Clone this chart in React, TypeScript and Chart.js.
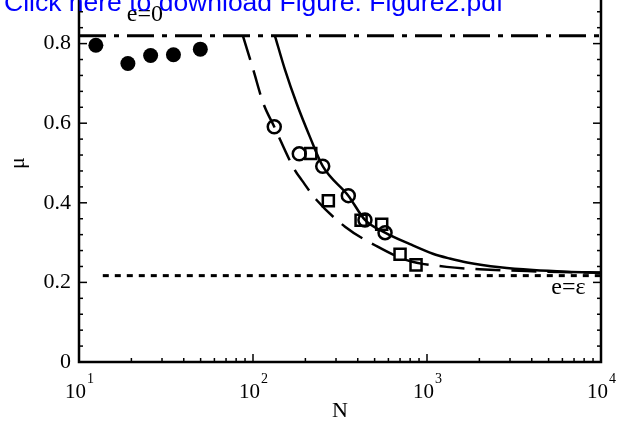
import React, { useEffect, useRef } from 'react';
import { Chart, registerables } from 'chart.js';
Chart.register(...registerables);

// ---- data ----
const filledN = [12.5, 19.1, 25.8, 34.9, 49.8];
const filledMu = [0.796, 0.75, 0.77, 0.772, 0.786];

const circleN = [132.5, 184.5, 251.6, 353, 440, 574];
const circleMu = [0.591, 0.523, 0.492, 0.418, 0.357, 0.325];

const squareN = [214.8, 271, 418, 549, 700, 865];
const squareMu = [0.524, 0.405, 0.356, 0.346, 0.271, 0.244];

const solidN = [133.8, 152.8, 178, 212.6, 251.6, 353, 440, 574, 798, 1081, 1350, 1698, 2627, 4064, 6377, 10000];
const solidMu = [0.819, 0.734, 0.65, 0.565, 0.492, 0.418, 0.357, 0.325, 0.296, 0.272, 0.26, 0.25, 0.238, 0.231, 0.227, 0.225];

const dashedN = [87.6, 100.4, 114.6, 132.5, 174, 190.6, 232, 338, 514, 764, 1297, 2000, 4000, 10000];
const dashedMu = [0.819, 0.734, 0.65, 0.591, 0.482, 0.457, 0.407, 0.34, 0.291, 0.256, 0.239, 0.233, 0.228, 0.224];

const zeroLineN = [10, 10000];
const zeroLineMu = [0.82, 0.82];
const epsLineN = [13.7, 10000];
const epsLineMu = [0.217, 0.217];

const xMajorTicks = [10, 100, 1000, 10000];
const yLabelTicks = [0, 0.2, 0.4, 0.6, 0.8];

const labelZero = { text: 'e=0', n: 23.9, mu: 0.857 };
const labelEps = { text: 'e=\u03b5', n: 6500, mu: 0.171 };
const downloadText = 'Click here to download Figure: Figure2.pdf';

const SERIF = "'Liberation Serif', 'Times New Roman', serif";

const pts = (xs: number[], ys: number[]) => xs.map((x, i) => ({ x, y: ys[i] }));

const framePlugin = {
  id: 'frame',
  afterDraw(chart: any) {
    const { ctx, chartArea: a, scales } = chart;
    const x = scales.x;
    const y = scales.y;
    ctx.save();
    ctx.strokeStyle = '#000';
    ctx.lineWidth = 2.5;
    ctx.strokeRect(a.left, a.top, a.right - a.left, a.bottom - a.top);

    ctx.lineWidth = 1.5;
    const seg = (x1: number, y1: number, x2: number, y2: number) => {
      ctx.beginPath();
      ctx.moveTo(x1, y1);
      ctx.lineTo(x2, y2);
      ctx.stroke();
    };
    // y ticks (inward, both sides)
    y.ticks.forEach((t: any) => {
      const py = y.getPixelForValue(t.value);
      const major = yLabelTicks.some((v) => Math.abs(v - t.value) < 1e-6) || Math.abs(t.value - 1) < 1e-6;
      const len = major ? 8 : 4;
      seg(a.left, py, a.left + len, py);
      seg(a.right, py, a.right - len, py);
    });
    // x ticks (log minor)
    const kMin = Math.round(Math.log10(x.min));
    const kMax = Math.round(Math.log10(x.max));
    for (let k = kMin; k <= kMax; k++) {
      for (let m = 1; m <= 9; m++) {
        const v = m * Math.pow(10, k);
        if (v > x.max * 1.0001) break;
        const px = x.getPixelForValue(v);
        const len = m === 1 ? 8 : 4;
        seg(px, a.bottom, px, a.bottom - len);
        seg(px, a.top, px, a.top + len);
      }
    }
    // x tick labels 10^k
    ctx.fillStyle = '#000';
    ctx.textBaseline = 'alphabetic';
    xMajorTicks.forEach((v) => {
      const px = x.getPixelForValue(v);
      const exp = String(Math.round(Math.log10(v)));
      ctx.font = `21px ${SERIF}`;
      const wb = ctx.measureText('10').width;
      ctx.font = `14px ${SERIF}`;
      const we = ctx.measureText(exp).width;
      const start = px - (wb + we) / 2;
      ctx.font = `21px ${SERIF}`;
      ctx.textAlign = 'left';
      ctx.fillText('10', start, a.bottom + 36);
      ctx.font = `14px ${SERIF}`;
      ctx.fillText(exp, start + wb + 1, a.bottom + 21);
    });
    // annotations
    ctx.font = `24px ${SERIF}`;
    ctx.textAlign = 'center';
    [labelZero, labelEps].forEach((l) => {
      ctx.fillText(l.text, x.getPixelForValue(l.n), y.getPixelForValue(l.mu));
    });
    // download overlay
    ctx.font = `26.5px 'Liberation Sans', Arial, sans-serif`;
    ctx.fillStyle = '#0000ff';
    ctx.textAlign = 'left';
    ctx.fillText(downloadText, 4, 47);
    ctx.restore();
  },
};

export default function App() {
  const ref = useRef<HTMLCanvasElement>(null);
  useEffect(() => {
    const canvas = ref.current!;
    const chart = new Chart(canvas, {
      type: 'scatter',
      data: {
        datasets: [
          {
            data: pts(filledN, filledMu),
            pointRadius: 7.5,
            pointBackgroundColor: '#000',
            pointBorderColor: '#000',
            pointBorderWidth: 0,
            showLine: false,
          },
          {
            data: pts(circleN, circleMu),
            pointRadius: 6.5,
            pointBackgroundColor: 'rgba(0,0,0,0)',
            pointBorderColor: '#000',
            pointBorderWidth: 2.5,
            showLine: false,
          },
          {
            data: pts(squareN, squareMu),
            pointStyle: 'rect',
            pointRadius: 7.8,
            pointBackgroundColor: 'rgba(0,0,0,0)',
            pointBorderColor: '#000',
            pointBorderWidth: 2.5,
            showLine: false,
          },
          {
            data: pts(solidN, solidMu),
            showLine: true,
            borderColor: '#000',
            borderWidth: 2.5,
            pointRadius: 0,
            cubicInterpolationMode: 'monotone',
          },
          {
            data: pts(dashedN, dashedMu),
            showLine: true,
            borderColor: '#000',
            borderWidth: 2.5,
            borderDash: [25, 11],
            pointRadius: 0,
            cubicInterpolationMode: 'monotone',
          },
          {
            data: pts(zeroLineN, zeroLineMu),
            showLine: true,
            borderColor: '#000',
            borderWidth: 3,
            borderDash: [27, 8, 5, 8],
            pointRadius: 0,
          },
          {
            data: pts(epsLineN, epsLineMu),
            showLine: true,
            borderColor: '#000',
            borderWidth: 3,
            borderDash: [6, 6],
            pointRadius: 0,
          },
        ],
      },
      options: {
        animation: false,
        responsive: false,
        layout: { autoPadding: false, padding: { top: 0, right: 16, bottom: 0, left: 0 } },
        plugins: { legend: { display: false }, tooltip: { enabled: false } },
        scales: {
          x: {
            type: 'logarithmic',
            min: 10,
            max: 10000,
            grid: { display: false, drawTicks: false },
            border: { display: false },
            ticks: { display: false, autoSkip: false },
            title: {
              display: true,
              text: 'N',
              color: '#000',
              font: { family: SERIF, size: 22 },
              padding: { top: 0, bottom: 5 },
            },
            afterFit: (s: any) => {
              s.height = 67;
              s.paddingLeft = 0;
              s.paddingRight = 0;
            },
          },
          y: {
            min: 0,
            max: 1,
            grid: { display: false, drawTicks: false },
            border: { display: false },
            ticks: {
              stepSize: 0.04,
              autoSkip: false,
              padding: 8,
              color: '#000',
              font: { family: SERIF, size: 22 },
              callback: (v: any) => {
                const hit = yLabelTicks.find((t) => Math.abs(t - Number(v)) < 1e-6);
                if (hit === undefined) return '';
                return hit === 0 ? '0' : hit.toFixed(1);
              },
            },
            title: {
              display: true,
              text: '\u03bc',
              color: '#000',
              font: { family: SERIF, size: 22 },
              padding: { top: 5, bottom: 0 },
            },
            afterFit: (s: any) => {
              s.width = 79;
              s.paddingTop = 0;
              s.paddingBottom = 0;
            },
          },
        },
      },
      plugins: [framePlugin],
    } as any);
    return () => chart.destroy();
  }, []);
  return (
    <div style={{ position: 'absolute', left: 0, top: -36, width: 617, height: 465 }}>
      <canvas ref={ref} width={617} height={465} style={{ display: 'block' }} />
    </div>
  );
}
